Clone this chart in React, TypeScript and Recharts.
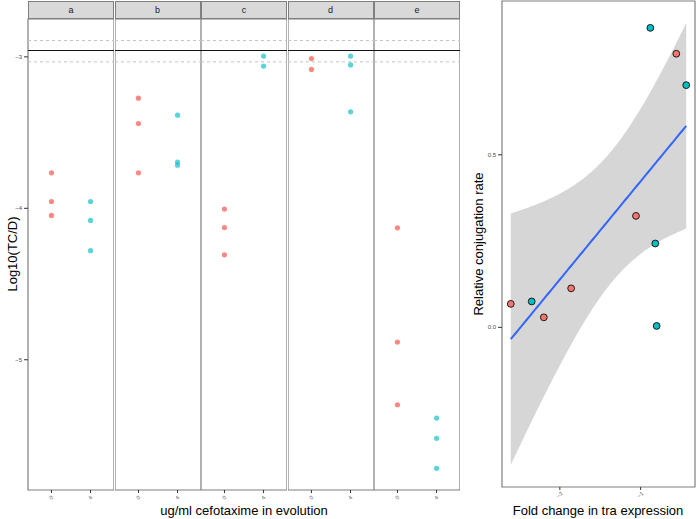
import React from "react";
import {
  ScatterChart,
  Scatter,
  ComposedChart,
  Area,
  Line,
  XAxis,
  YAxis,
  ReferenceLine,
  ReferenceArea,
} from "recharts";

const FONT = "'Liberation Sans', Arial, Helvetica, sans-serif";
const RED = "#F8766D";
const TEAL = "#00BFC4";

// ---- left panel: log10(TC/D) per evolution line, split by dose ----
const facetNames = ["a", "b", "c", "d", "e"];
const doseLabels = ["0", "4"];
const dose0Values = [
  [-3.766, -3.955, -4.047],
  [-3.273, -3.44, -3.766],
  [-4.005, -4.127, -4.307],
  [-3.011, -3.083],
  [-4.129, -4.883, -5.297],
];
const dose4Values = [
  [-3.955, -4.08, -4.28],
  [-3.385, -3.695, -3.715],
  [-2.995, -3.061],
  [-2.995, -3.053, -3.363],
  [-5.385, -5.519, -5.717],
];
const ancestorLevel = -2.958;
const ancestorBand = [-2.892, -3.033];
const logTicks = [-5, -4, -3];
const logDomain: [number, number] = [-5.86, -2.75];

// ---- right panel: fold change vs relative conjugation rate ----
const foldChange = [-2.607, -2.348, -2.198, -1.86, -1.058, -0.88, -0.819, -0.802, -0.559, -0.436];
const relRate = [0.068, 0.075, 0.029, 0.113, 0.323, 0.868, 0.243, 0.004, 0.793, 0.702];
const rateGroup = ["0", "4", "0", "0", "0", "4", "4", "4", "0", "4"];
const foldTicks = [-2, -1];
const rateTicks = [0, 0.5];

// linear fit + 95% band (like geom_smooth(method = "lm"))
const n = foldChange.length;
const mx = foldChange.reduce((a, b) => a + b, 0) / n;
const my = relRate.reduce((a, b) => a + b, 0) / n;
let sxx = 0;
let sxy = 0;
foldChange.forEach((x, i) => {
  sxx += (x - mx) ** 2;
  sxy += (x - mx) * (relRate[i] - my);
});
const slope = sxy / sxx;
const intercept = my - slope * mx;
const rss = foldChange.reduce((acc, x, i) => acc + (relRate[i] - (intercept + slope * x)) ** 2, 0);
const sigma = Math.sqrt(rss / (n - 2));
const T975 = 2.306; // t quantile, df = 8
const xMin = Math.min(...foldChange);
const xMax = Math.max(...foldChange);
const fitData = Array.from({ length: 80 }, (_, i) => {
  const x = xMin + ((xMax - xMin) * i) / 79;
  const fit = intercept + slope * x;
  const se = sigma * Math.sqrt(1 / n + (x - mx) ** 2 / sxx);
  return { x, fit, band: [fit - T975 * se, fit + T975 * se] };
});
const pointData = foldChange.map((x, i) => ({ x, y: relRate[i], g: rateGroup[i] }));

const expand = (lo: number, hi: number): [number, number] => {
  const pad = (hi - lo) * 0.05;
  return [lo - pad, hi + pad];
};
const foldDomain = expand(xMin, xMax);
const yLows = fitData.map((d) => d.band[0]).concat(relRate);
const yHighs = fitData.map((d) => d.band[1]).concat(relRate);
const rateDomain = expand(Math.min(...yLows), Math.max(...yHighs));

const fmtMinus = (v: number) => (v < 0 ? "\u2212" + String(Math.abs(v)) : String(v));

function RotTick(props: any) {
  const { x, y, payload, fmt } = props;
  const ty = y + 3;
  return (
    <text
      x={x}
      y={ty}
      transform={`rotate(-45, ${x}, ${ty})`}
      fontSize={5.5}
      fill="#4d4d4d"
      fontFamily={FONT}
      textAnchor="middle"
      dominantBaseline="middle"
    >
      {fmt(payload.value)}
    </text>
  );
}

const dot = (color: string, opacity: number) => (p: any) => (
  <circle cx={p.cx} cy={p.cy} r={2.6} fill={color} fillOpacity={opacity} />
);

const outlinedDot = (p: any) => (
  <circle
    cx={p.cx}
    cy={p.cy}
    r={3.4}
    fill={p.payload.g === "0" ? RED : TEAL}
    stroke="#1a1a1a"
    strokeWidth={1}
  />
);

const PANEL_W = 86;
const PANEL_STEP = 86.5;
const Y_AXIS_W = 28;

function Facet({ index }: { index: number }) {
  const withAxis = index === 0;
  const panelLeft = 28 + index * PANEL_STEP;
  const red = dose0Values[index].map((v) => ({ x: 1, y: v }));
  const teal = dose4Values[index].map((v) => ({ x: 2, y: v }));
  return (
    <>
      <div
        style={{
          position: "absolute",
          left: panelLeft,
          top: 1,
          width: PANEL_W,
          height: 18,
          boxSizing: "border-box",
          background: "#d9d9d9",
          border: "1px solid #7f7f7f",
          fontFamily: FONT,
          fontSize: 9,
          color: "#1a1a1a",
          textAlign: "center",
          lineHeight: "16px",
        }}
      >
        {facetNames[index]}
      </div>
      <div style={{ position: "absolute", left: withAxis ? panelLeft - Y_AXIS_W : panelLeft, top: 0 }}>
        <ScatterChart
          width={PANEL_W + (withAxis ? Y_AXIS_W : 0)}
          height={519}
          margin={{ top: 19, right: 0, bottom: 0, left: 0 }}
        >
          <XAxis
            type="number"
            dataKey="x"
            domain={[0.4, 2.6]}
            ticks={[1, 2]}
            allowDataOverflow
            height={29}
            axisLine={false}
            tickLine={{ stroke: "#333" }}
            tickSize={3}
            tick={<RotTick fmt={(v: number) => doseLabels[v - 1]} />}
          />
          <YAxis
            type="number"
            dataKey="y"
            domain={logDomain}
            ticks={logTicks}
            allowDataOverflow
            hide={!withAxis}
            width={Y_AXIS_W}
            axisLine={false}
            tickLine={{ stroke: "#333" }}
            tickSize={4}
            tickMargin={2}
            tickFormatter={fmtMinus}
            tick={{ fontSize: 6, fill: "#4d4d4d", fontFamily: FONT }}
          />
          <ReferenceLine y={ancestorBand[0]} stroke="#c4c4c4" strokeDasharray="3 3" />
          <ReferenceLine y={ancestorBand[1]} stroke="#c4c4c4" strokeDasharray="3 3" />
          <ReferenceLine y={ancestorLevel} stroke="#111" strokeWidth={1} />
          <ReferenceArea
            x1={0.4}
            x2={2.6}
            y1={logDomain[0]}
            y2={logDomain[1]}
            fill="none"
            stroke="#7f7f7f"
            strokeWidth={1.2}
          />
          <Scatter data={red} shape={dot(RED, 0.85)} isAnimationActive={false} />
          <Scatter data={teal} shape={dot(TEAL, 0.65)} isAnimationActive={false} />
        </ScatterChart>
      </div>
    </>
  );
}

export default function App() {
  return (
    <div style={{ position: "relative", width: 696, height: 519, overflow: "hidden", background: "#fff" }}>
      <style>{"body{margin:0}"}</style>
      {facetNames.map((_, i) => (
        <Facet key={i} index={i} />
      ))}
      <div
        style={{
          position: "absolute",
          left: 12,
          top: 254,
          transform: "translate(-50%, -50%) rotate(-90deg)",
          whiteSpace: "nowrap",
          fontFamily: FONT,
          fontSize: 13,
          color: "#000",
        }}
      >
        Log10(TC/D)
      </div>
      <div
        style={{
          position: "absolute",
          left: 244,
          top: 510,
          transform: "translate(-50%, -50%)",
          whiteSpace: "nowrap",
          fontFamily: FONT,
          fontSize: 13,
          color: "#000",
        }}
      >
        ug/ml cefotaxime in evolution
      </div>

      <div style={{ position: "absolute", left: 470, top: 0 }}>
        <ComposedChart width={226} height={519} data={fitData} margin={{ top: 1, right: 1, bottom: 0, left: 0 }}>
          <XAxis
            type="number"
            dataKey="x"
            domain={foldDomain}
            ticks={foldTicks}
            allowDataOverflow
            height={32}
            axisLine={false}
            tickLine={{ stroke: "#333" }}
            tickSize={3}
            tick={<RotTick fmt={fmtMinus} />}
          />
          <YAxis
            type="number"
            domain={rateDomain}
            ticks={rateTicks}
            allowDataOverflow
            width={32}
            axisLine={false}
            tickLine={{ stroke: "#333" }}
            tickSize={4}
            tickMargin={2}
            tickFormatter={(v: number) => v.toFixed(1)}
            tick={{ fontSize: 6, fill: "#4d4d4d", fontFamily: FONT }}
          />
          <Area
            type="linear"
            dataKey="band"
            stroke="none"
            fill="#999999"
            fillOpacity={0.4}
            isAnimationActive={false}
          />
          <Line
            type="linear"
            dataKey="fit"
            stroke="#3366FF"
            strokeWidth={2}
            dot={false}
            isAnimationActive={false}
          />
          <Scatter data={pointData} dataKey="y" shape={outlinedDot} isAnimationActive={false} />
          <ReferenceArea
            x1={foldDomain[0]}
            x2={foldDomain[1]}
            y1={rateDomain[0]}
            y2={rateDomain[1]}
            fill="none"
            stroke="#7f7f7f"
            strokeWidth={1.2}
          />
        </ComposedChart>
      </div>
      <div
        style={{
          position: "absolute",
          left: 478,
          top: 244,
          transform: "translate(-50%, -50%) rotate(-90deg)",
          whiteSpace: "nowrap",
          fontFamily: FONT,
          fontSize: 13,
          color: "#000",
        }}
      >
        Relative conjugation rate
      </div>
      <div
        style={{
          position: "absolute",
          left: 598,
          top: 510,
          transform: "translate(-50%, -50%)",
          whiteSpace: "nowrap",
          fontFamily: FONT,
          fontSize: 13,
          color: "#000",
        }}
      >
        Fold change in tra expression
      </div>
    </div>
  );
}
